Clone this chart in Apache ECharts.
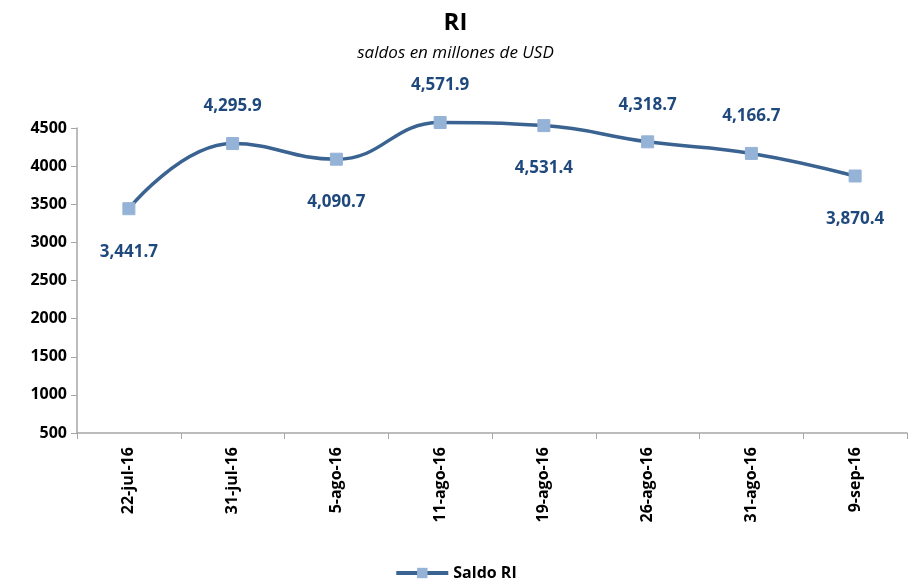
<!DOCTYPE html>
<html><head><meta charset="utf-8">
<script src="https://cdn.jsdelivr.net/npm/echarts@6/dist/echarts.min.js"></script>
<style>html,body{margin:0;padding:0;background:#fff}#c{width:911px;height:586px}</style>
</head><body><div id="c"></div>
<script>
const categories = ['22-jul-16','31-jul-16','5-ago-16','11-ago-16','19-ago-16','26-ago-16','31-ago-16','9-sep-16'];
const values = [3441.7, 4295.9, 4090.7, 4571.9, 4531.4, 4318.7, 4166.7, 3870.4];
const labelSides = ['bottom','top','bottom','top','bottom','top','top','bottom'];
const yTicks = [500, 4500, 500];

const font = "'Open Sans', 'Noto Sans', sans-serif";
const chart = echarts.init(document.getElementById('c'));
chart.setOption({
  animation: false,
  title: {
    text: 'RI', subtext: 'saldos en millones de USD', left: 'center', top: 6, itemGap: 10,
    textStyle: {fontFamily: font, fontSize: 24, fontWeight: 'bold', color: '#000'},
    subtextStyle: {fontFamily: font, fontSize: 17, fontStyle: 'italic', color: '#000'}
  },
  legend: {
    bottom: 0, left: 'center', itemWidth: 52, itemHeight: 13, itemGap: 4,
    data: ['Saldo RI'],
    lineStyle: {width: 4},
    textStyle: {fontFamily: font, fontSize: 16, fontWeight: 'bold', color: '#000'}
  },
  grid: {left: 77, right: 4, top: 128, bottom: 153, containLabel: false},
  xAxis: {
    type: 'category', data: categories, boundaryGap: true,
    axisLine: {lineStyle: {color: '#A6A6A6', width: 1.5}},
    axisTick: {show: true, length: 6, alignWithLabel: false, lineStyle: {color: '#A6A6A6'}},
    axisLabel: {rotate: 90, fontFamily: font, fontSize: 16, fontWeight: 'bold', color: '#000', margin: 14}
  },
  yAxis: {
    type: 'value', min: yTicks[0], max: yTicks[1], interval: yTicks[2],
    splitLine: {show: false},
    axisLine: {show: true, lineStyle: {color: '#A6A6A6', width: 1.5}},
    axisTick: {show: true, length: 6, lineStyle: {color: '#A6A6A6'}},
    axisLabel: {fontFamily: font, fontSize: 16, fontWeight: 'bold', color: '#000', margin: 10, formatter: v => String(v)}
  },
  series: [{
    name: 'Saldo RI', type: 'line', smooth: 0.45, clip: false,
    symbol: 'rect', symbolSize: 12,
    lineStyle: {color: '#3A6391', width: 3.5},
    itemStyle: {color: '#95B3D7', borderColor: '#95B3D7'},
    data: values.map((v, i) => ({
      value: v,
      label: {show: true, position: labelSides[i], distance: labelSides[i] === 'top' ? 22 : 28}
    })),
    label: {
      fontFamily: font, fontSize: 17, fontWeight: 'bold', color: '#1F497D',
      formatter: p => p.value.toLocaleString('en-US', {minimumFractionDigits: 1, maximumFractionDigits: 1})
    }
  }]
});
</script></body></html>
